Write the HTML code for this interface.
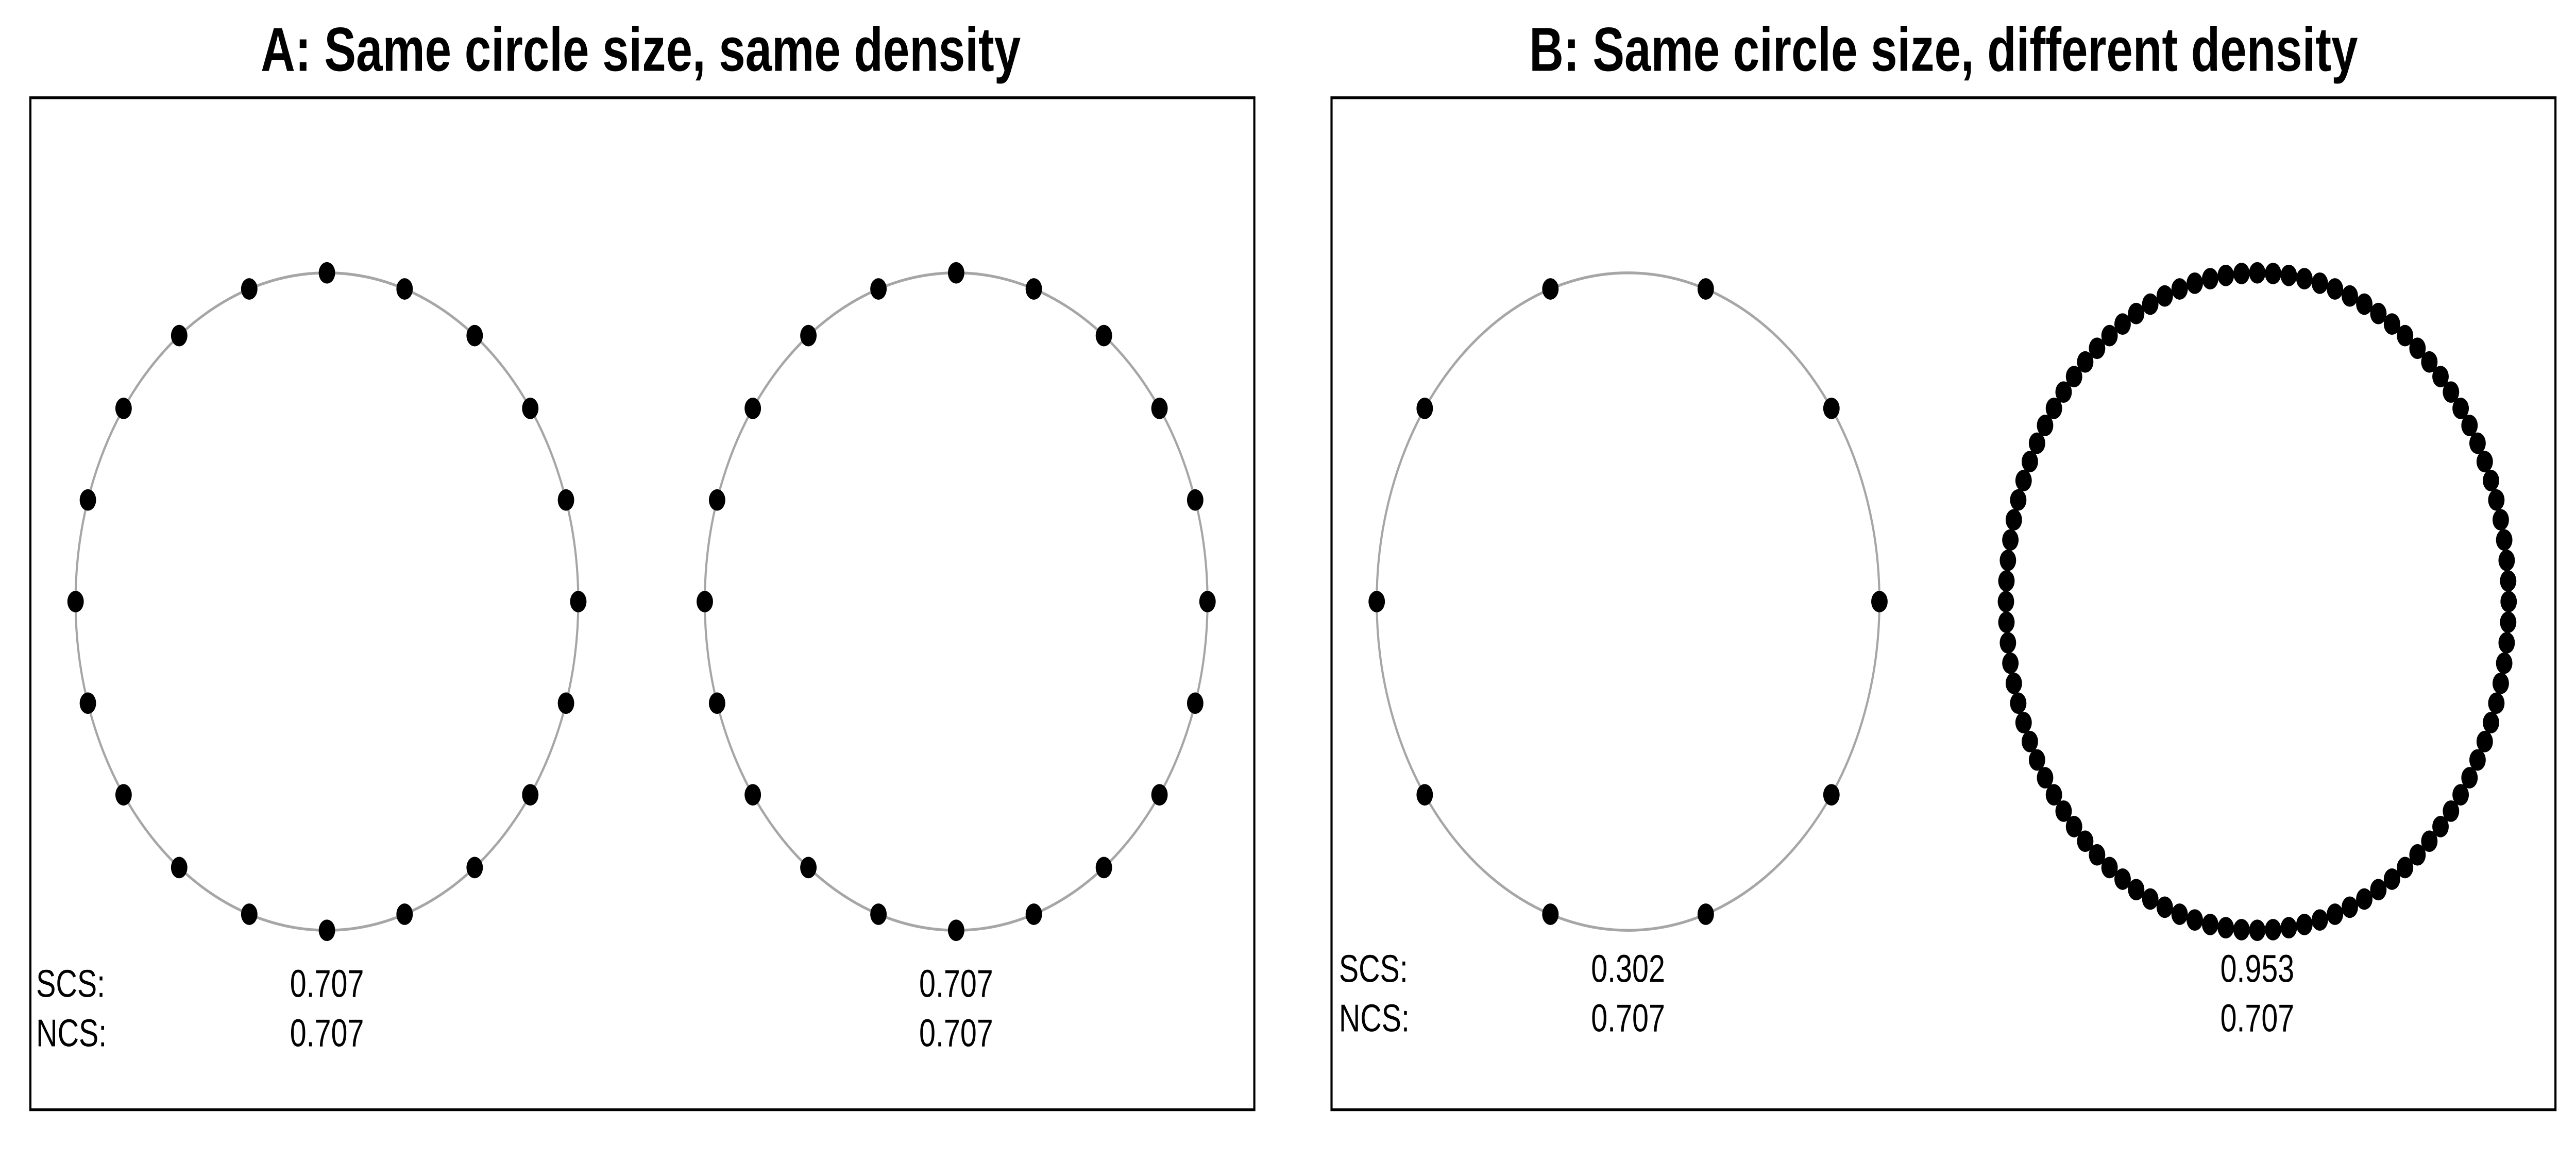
<!DOCTYPE html>
<html><head><meta charset="utf-8"><style>
html,body{margin:0;padding:0;background:#fff;width:100%;height:100%;overflow:hidden;}
svg{display:block;position:absolute;left:0;top:0;width:100vw;height:100vh;}
text{font-family:"Liberation Sans",Arial,sans-serif;}
</style></head><body>
<svg id="chart" viewBox="0 0 1568 541.3" preserveAspectRatio="none" xmlns="http://www.w3.org/2000/svg">
<rect width="1568" height="541.3" fill="#fff"/>
<text x="390" y="33" text-anchor="middle" font-size="29" font-weight="bold">A: Same circle size, same density</text>
<text x="1183" y="33" text-anchor="middle" font-size="29" font-weight="bold">B: Same circle size, different density</text>
<rect x="18.5" y="45.5" width="745" height="471" fill="none" stroke="#000" stroke-width="1.3"/>
<rect x="810.5" y="45.5" width="745" height="471" fill="none" stroke="#000" stroke-width="1.3"/>
<g id="marks"></g>
</svg>
<script>
const circleLabels = ["A-left","A-right","B-left","B-right"];
const pointCounts = [20, 20, 10, 100];
const startAngles = [90, 90, 0, 90];
const scsValues = ["0.707","0.707","0.302","0.953"];
const ncsValues = ["0.707","0.707","0.707","0.707"];
const centersX = [199, 582, 991, 1374];
const centerY = 280, radius = 153;
const ns = "http://www.w3.org/2000/svg";
const g = document.getElementById("marks");
function mk(tag, attrs){const e=document.createElementNS(ns,tag);for(const k in attrs)e.setAttribute(k,attrs[k]);return e;}
circleLabels.forEach((lab,i)=>{
  const cx=centersX[i];
  const c=mk("circle",{cx:cx,cy:centerY,r:radius,fill:"none",stroke:"#a6a6a6","stroke-width":1.3});
  
  
  g.appendChild(c);
  const n=pointCounts[i];
  for(let k=0;k<n;k++){
    const a=(startAngles[i]+360*k/n)*Math.PI/180;
    const p=mk("circle",{cx:cx+radius*Math.cos(a),cy:centerY-radius*Math.sin(a),r:5,fill:"#000"});
    
    
    g.appendChild(p);
  }
  const panelB=i>=2;
  const y1=panelB?457:464, y2=panelB?480:487;
  const t1=mk("text",{x:cx,y:y1,"text-anchor":"middle","font-size":18});
  t1.textContent=scsValues[i];
  
  
  g.appendChild(t1);
  const t2=mk("text",{x:cx,y:y2,"text-anchor":"middle","font-size":18});
  t2.textContent=ncsValues[i];
  
  
  g.appendChild(t2);
});
[[22,464,487],[815,457,480]].forEach(([x,y1,y2])=>{
  const a=mk("text",{x:x,y:y1,"font-size":18});a.textContent="SCS:";
  
  
  g.appendChild(a);
  const b=mk("text",{x:x,y:y2,"font-size":18});b.textContent="NCS:";
  
  
  g.appendChild(b);
});
</script>
</body></html>
